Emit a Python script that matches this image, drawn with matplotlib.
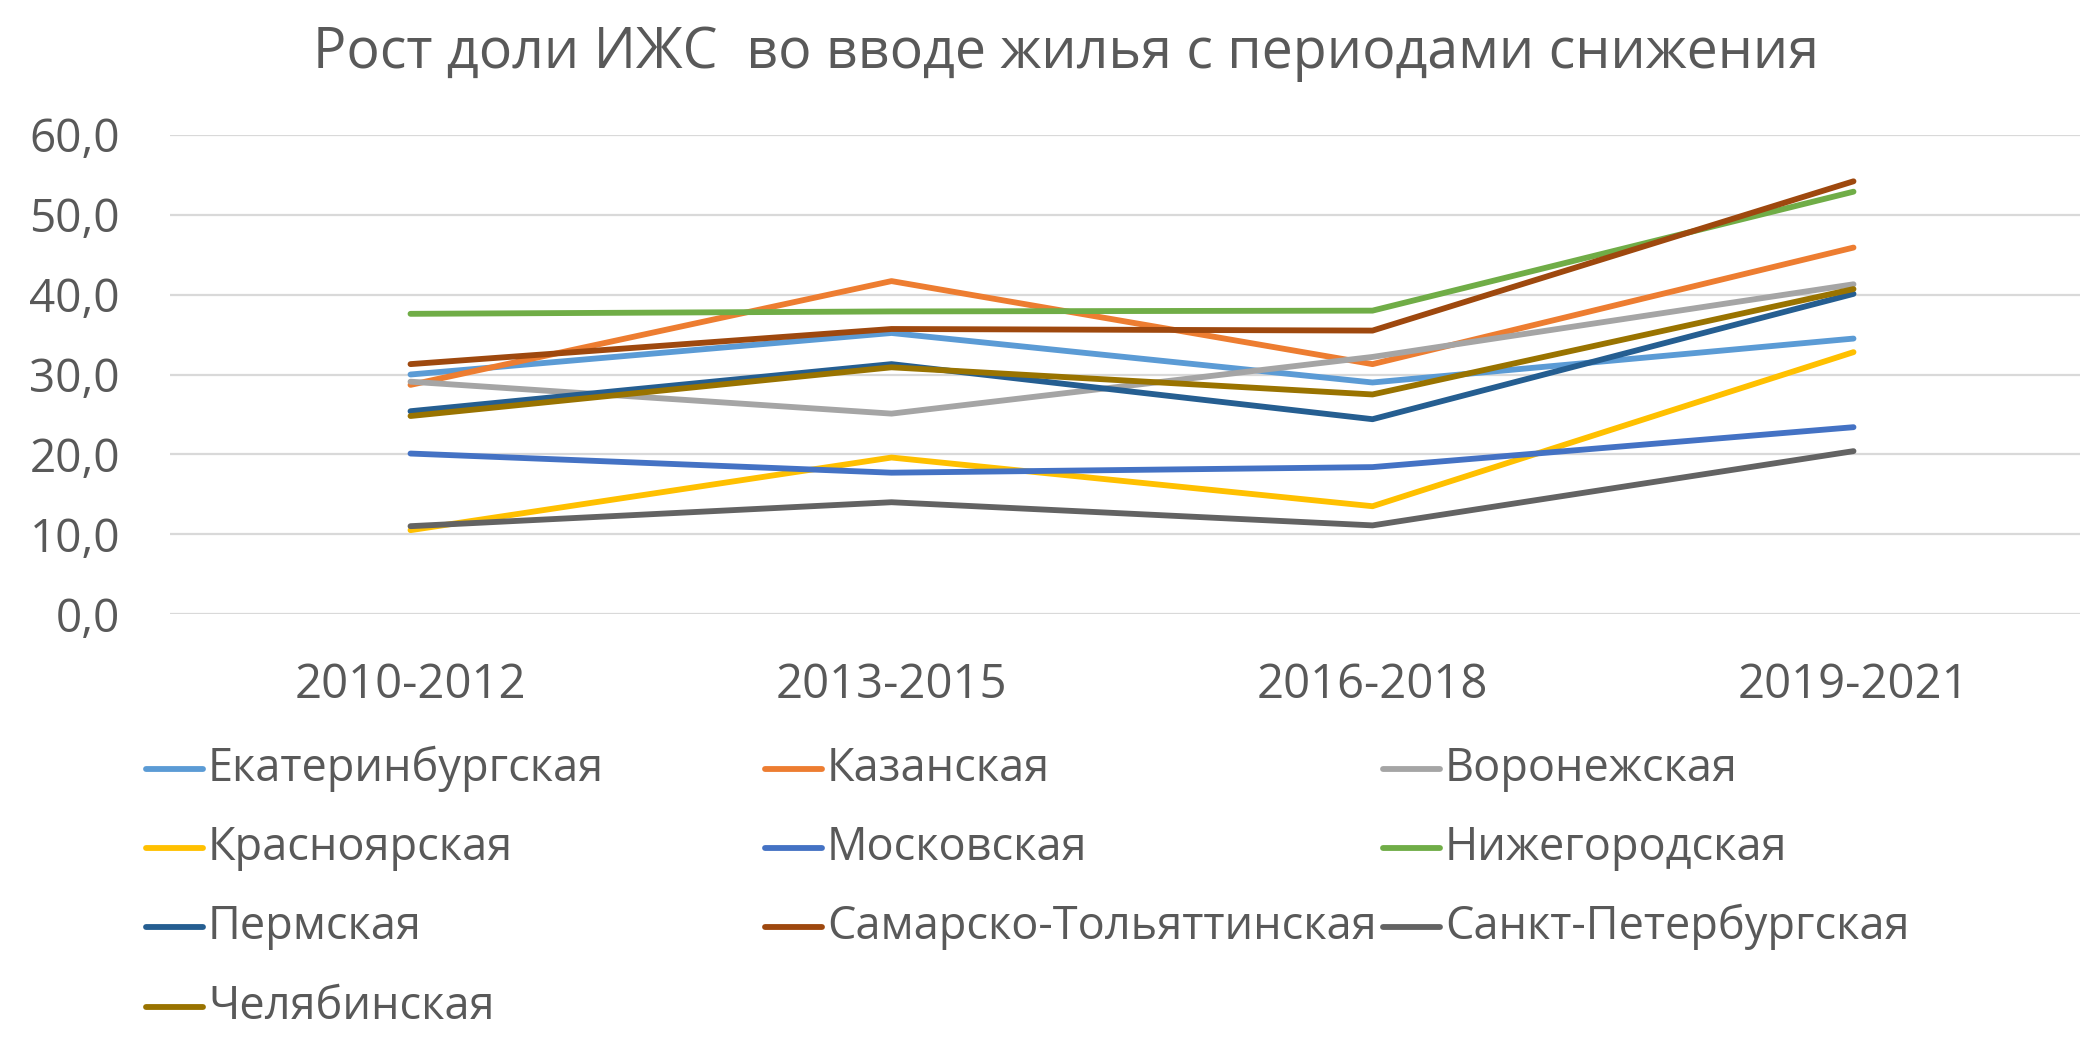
import matplotlib
matplotlib.use("Agg")
import matplotlib.pyplot as plt
from matplotlib.lines import Line2D
from matplotlib.ticker import FuncFormatter

plt.rcParams['font.family'] = ['Open Sans', 'DejaVu Sans']

periods = ['2010-2012', '2013-2015', '2016-2018', '2019-2021']

names = ['Екатеринбургская', 'Казанская', 'Воронежская',
         'Красноярская', 'Московская', 'Нижегородская',
         'Пермская', 'Самарско-Тольяттинская', 'Санкт-Петербургская',
         'Челябинская']

ekaterinburg = [30.0, 35.2, 29.0, 34.5]
kazan = [28.7, 41.7, 31.3, 45.9]
voronezh = [29.1, 25.1, 32.2, 41.3]
krasnoyarsk = [10.5, 19.6, 13.5, 32.8]
moscow = [20.1, 17.7, 18.4, 23.4]
nizhny = [37.6, 37.9, 38.0, 52.9]
perm = [25.4, 31.3, 24.4, 40.1]
samara = [31.3, 35.7, 35.5, 54.2]
spb = [11.0, 14.0, 11.1, 20.4]
chelyabinsk = [24.8, 30.9, 27.5, 40.7]

series = [ekaterinburg, kazan, voronezh, krasnoyarsk, moscow,
          nizhny, perm, samara, spb, chelyabinsk]
colors = ['#5B9BD5', '#ED7D31', '#A5A5A5', '#FFC000', '#4472C4',
          '#70AD47', '#255E91', '#9E480E', '#636363', '#997300']

W, H = 2080, 1037
text_col = '#595959'

fig = plt.figure(figsize=(W / 100, H / 100), dpi=100)
ax = fig.add_axes([170 / W, 1 - 614 / H, 1924 / W, 479 / H])

x = range(len(periods))
for vals, c, n in zip(series, colors, names):
    ax.plot(x, vals, color=c, lw=4.2, label=n, solid_capstyle='round',
            solid_joinstyle='round', zorder=3)

ax.set_xlim(-0.5, len(periods) - 0.5)
ax.set_ylim(0, 60)
ax.set_yticks(range(0, 61, 10))
ax.yaxis.set_major_formatter(FuncFormatter(lambda v, p: f'{v:.1f}'.replace('.', ',')))
ax.set_xticks(list(x))
ax.set_xticklabels(periods)
ax.grid(axis='y', color='#D9D9D9', lw=1.6, zorder=0)
for s in ax.spines.values():
    s.set_visible(False)
ax.tick_params(axis='both', length=0, labelsize=34, labelcolor=text_col)
ax.tick_params(axis='y', pad=36, labelsize=33)
ax.tick_params(axis='x', pad=34)

fig.text(1066 / W, 1 - 53 / H, 'Рост доли ИЖС  во вводе жилья с периодами снижения',
         ha='center', va='center', fontsize=40, color=text_col)

# legend, row by row like the original
col_x = [146, 765, 1383]
row_y = [769, 848, 927, 1007]
for i, (n, c) in enumerate(zip(names, colors)):
    r, k = divmod(i, 3)
    x0 = col_x[k]
    y0 = 1 - row_y[r] / H
    fig.add_artist(Line2D([x0 / W, (x0 + 57) / W], [y0, y0], color=c, lw=4.2,
                          solid_capstyle='round', transform=fig.transFigure))
    fig.text((x0 + 62) / W, y0, n, ha='left', va='center', fontsize=32.5,
             color=text_col)

fig.savefig('out.png', dpi=100)
